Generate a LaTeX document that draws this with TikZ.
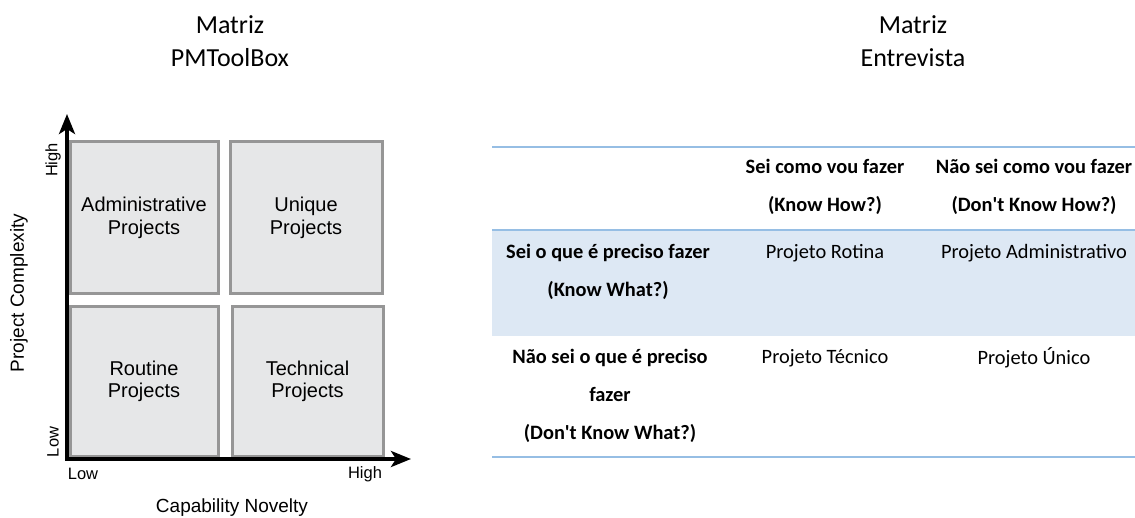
\documentclass[tikz,border=0pt]{standalone}
\usepackage{fontspec}
\setmainfont{Carlito}
\newfontfamily\arialfont{Liberation Sans}
\usetikzlibrary{arrows.meta}
\definecolor{boxfill}{RGB}{230,231,232}
\definecolor{boxline}{RGB}{150,150,150}
\definecolor{rulecol}{RGB}{150,190,228}
\definecolor{bandfill}{RGB}{221,232,244}
\tikzset{
  quad/.style={draw=boxline, line width=3pt, fill=boxfill, inner sep=0pt,
    align=center, font={\arialfont\fontsize{20}{22.5}\selectfont}},
  axis/.style={line width=4pt, -{Stealth[length=20pt,width=16pt,inset=5pt]}},
  axlabel/.style={font={\arialfont\fontsize{19}{22}\selectfont}},
  ticklabel/.style={font={\arialfont\fontsize{16.5}{19}\selectfont}},
  title/.style={align=center, font={\fontsize{26}{33}\selectfont}},
  cell/.style={align=center, inner sep=0pt, font={\fontsize{20.4}{37.8}\selectfont}},
  headcell/.style={cell, font={\bfseries\fontsize{20.4}{37.8}\selectfont}},
  tablerule/.style={draw=rulecol, line width=2pt}
}
\begin{document}
\begin{tikzpicture}[x=1pt,y=-1pt]
\useasboundingbox (0,0) rectangle (1135,518);

% titles
\node[title] (t1) at (230,41.5) {Matriz\\PMToolBox};
\node[title] (t2) at (913,41.5) {Matriz\\Entrevista};

% ---- PMToolBox quadrant chart ----
\node[quad, minimum width=148pt, minimum height=152pt] (adm) at (144,218) {Administrative\\Projects};
\node[quad, minimum width=152pt, minimum height=152pt] (uni) at (306,218) {Unique\\Projects};
\node[quad, minimum width=148pt, minimum height=149pt] (rou) at (144,381.5) {Routine\\Projects};
\node[quad, minimum width=151pt, minimum height=149pt] (tec) at (307.5,381.5) {Technical\\Projects};

\coordinate (origin) at (67,459);
\coordinate (ytip) at (67,114);
\coordinate (xtip) at (411,459);
\draw[axis] ([yshift=2pt]origin) -- (ytip);
\draw[axis] ([xshift=-2pt]origin) -- (xtip);

\node[ticklabel, rotate=90] (yhigh) at (53,160) {High};
\node[ticklabel, rotate=90] (ylow) at (53,442) {Low};
\node[ticklabel] (xlow) at (83,474) {Low};
\node[ticklabel] (xhigh) at (365,474) {High};
\node[axlabel, rotate=90] (ylab) at (19,293) {Project Complexity};
\node[axlabel] (xlab) at (232,508) {Capability Novelty};

% ---- Entrevista table ----
\coordinate (r0l) at (492,147);  \coordinate (r0r) at (1135,147);
\coordinate (r1l) at (492,230);  \coordinate (r1r) at (1135,230);
\coordinate (b1) at (1135,336);
\coordinate (r2l) at (492,457);  \coordinate (r2r) at (1135,457);
\fill[bandfill] (r1l) rectangle (b1);
\draw[tablerule] (r0l) -- (r0r);
\draw[tablerule] (r1l) -- (r1r);
\draw[tablerule] (r2l) -- (r2r);

\node[headcell] (h1) at (825,187) {Sei como vou fazer\\(Know How?)};
\node[headcell] (h2) at (1034,187) {Não sei como vou fazer\\(Don\textquotesingle t Know How?)};
\node[headcell] (w1) at (608,272) {Sei o que é preciso fazer\\(Know What?)};
\node[headcell] (w2) at (610,396) {Não sei o que é preciso\\fazer\\(Don\textquotesingle t Know What?)};

\node[cell] (c11) at (825,253) {Projeto Rotina};
\node[cell] (c12) at (1034,253) {Projeto Administrativo};
\node[cell] (c21) at (825,358) {Projeto Técnico};
\node[cell] (c22) at (1034,358) {Projeto Único};
\end{tikzpicture}
\end{document}
